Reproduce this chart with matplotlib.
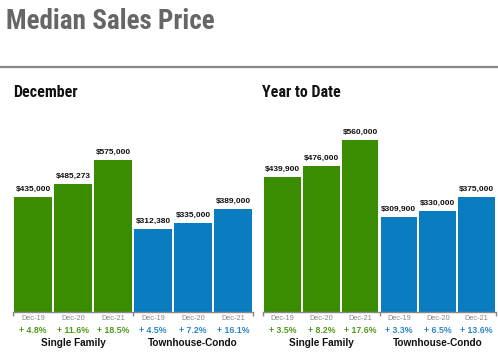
import matplotlib
matplotlib.use("Agg")
import matplotlib.pyplot as plt
from matplotlib.lines import Line2D
from matplotlib import font_manager

# data
periods = ["Dec-19", "Dec-20", "Dec-21"]
groups = ["Single Family", "Townhouse-Condo"]

dec_single = [435000, 485273, 575000]
dec_condo = [312380, 335000, 389000]
dec_single_pct = ["+ 4.8%", "+ 11.6%", "+ 18.5%"]
dec_condo_pct = ["+ 4.5%", "+ 7.2%", "+ 16.1%"]

ytd_single = [439900, 476000, 560000]
ytd_condo = [309900, 330000, 375000]
ytd_single_pct = ["+ 3.5%", "+ 8.2%", "+ 17.6%"]
ytd_condo_pct = ["+ 3.3%", "+ 6.5%", "+ 13.6%"]

GREEN = "#3a8c00"
BLUE = "#0a7cc0"
GREEN_TXT = "#4f9a1a"
BLUE_TXT = "#2a86cc"

W, H = 498, 356
SANS = ["Liberation Sans", "DejaVu Sans"]
plt.rcParams["font.family"] = SANS

# condensed face for the headings, if one is there
names = {f.name for f in font_manager.fontManager.ttflist}
COND = "DejaVu Sans"
for cand in ["Liberation Sans Narrow", "Roboto Condensed", "Open Sans Condensed"]:
    if cand in names:
        COND = cand
        break

fig = plt.figure(figsize=(W / 100, H / 100), dpi=100)


def px_ax(x0, x1, y_bottom, y_top):
    return fig.add_axes([x0 / W, 1 - y_bottom / H, (x1 - x0) / W, (y_bottom - y_top) / H])


def draw_panel(ax, single, condo, s_pct, c_pct, ymax, width):
    values = single + condo
    colors = [GREEN] * 3 + [BLUE] * 3
    xs = list(range(6))
    ax.bar(xs, values, width=width, color=colors)
    ax.set_xlim(-0.5, 5.5)
    ax.set_ylim(0, ymax)
    for s in ["top", "left", "right"]:
        ax.spines[s].set_visible(False)
    ax.spines["bottom"].set_color("#888888")
    ax.spines["bottom"].set_linewidth(1.0)
    ax.set_yticks([])
    ax.set_xticks([-0.5, 2.5, 5.5])
    ax.set_xticklabels([])
    ax.tick_params(axis="x", length=3, color="#888888", width=1.0)

    for x, v in zip(xs, values):
        ax.annotate(f"${v:,.0f}", (x, v), xytext=(0, 3), textcoords="offset points",
                    ha="center", va="bottom", fontsize=6, fontweight="bold",
                    color="#111111")

    labels = periods + periods
    pcts = s_pct + c_pct
    pcol = [GREEN_TXT] * 3 + [BLUE_TXT] * 3
    for x, lab, p, c in zip(xs, labels, pcts, pcol):
        ax.annotate(lab, (x, 0), xycoords=("data", "axes fraction"), xytext=(0, -4.5),
                    textcoords="offset points", ha="center", va="center",
                    fontsize=5.3, color="#888888")
        ax.annotate(p, (x, 0), xycoords=("data", "axes fraction"), xytext=(0, -13),
                    textcoords="offset points", ha="center", va="center",
                    fontsize=6.3, fontweight="bold", color=c)
    for gx, g in zip([1, 4], groups):
        ax.annotate(g, (gx, 0), xycoords=("data", "axes fraction"), xytext=(0, -22.5),
                    textcoords="offset points", ha="center", va="center",
                    fontsize=7.2, fontweight="bold", color="#111111")


ax1 = px_ax(13, 253, 312, 100)
draw_panel(ax1, dec_single, dec_condo, dec_single_pct, dec_condo_pct,
           575000 * 212 / 152, 0.95)
ax2 = px_ax(263, 496, 312, 100)
draw_panel(ax2, ytd_single, ytd_condo, ytd_single_pct, ytd_condo_pct,
           560000 * 212 / 172, 0.94)

fig.text(6 / W, 1 - 29 / H, "Median Sales Price", fontsize=19.5, fontweight="bold",
         fontstretch="condensed", family=COND,
         color="#666666", va="baseline", ha="left")
fig.add_artist(Line2D([0, 1], [1 - 66.5 / H] * 2, color="#888888", linewidth=1.6))
fig.text(13 / W, 1 - 97 / H, "December", fontsize=11.5, fontweight="bold",
         fontstretch="condensed", family=COND,
         color="#111111", va="baseline", ha="left")
fig.text(262 / W, 1 - 97 / H, "Year to Date", fontsize=11.5, fontweight="bold",
         fontstretch="condensed", family=COND,
         color="#111111", va="baseline", ha="left")

fig.savefig("out.png", dpi=100, facecolor="white")
